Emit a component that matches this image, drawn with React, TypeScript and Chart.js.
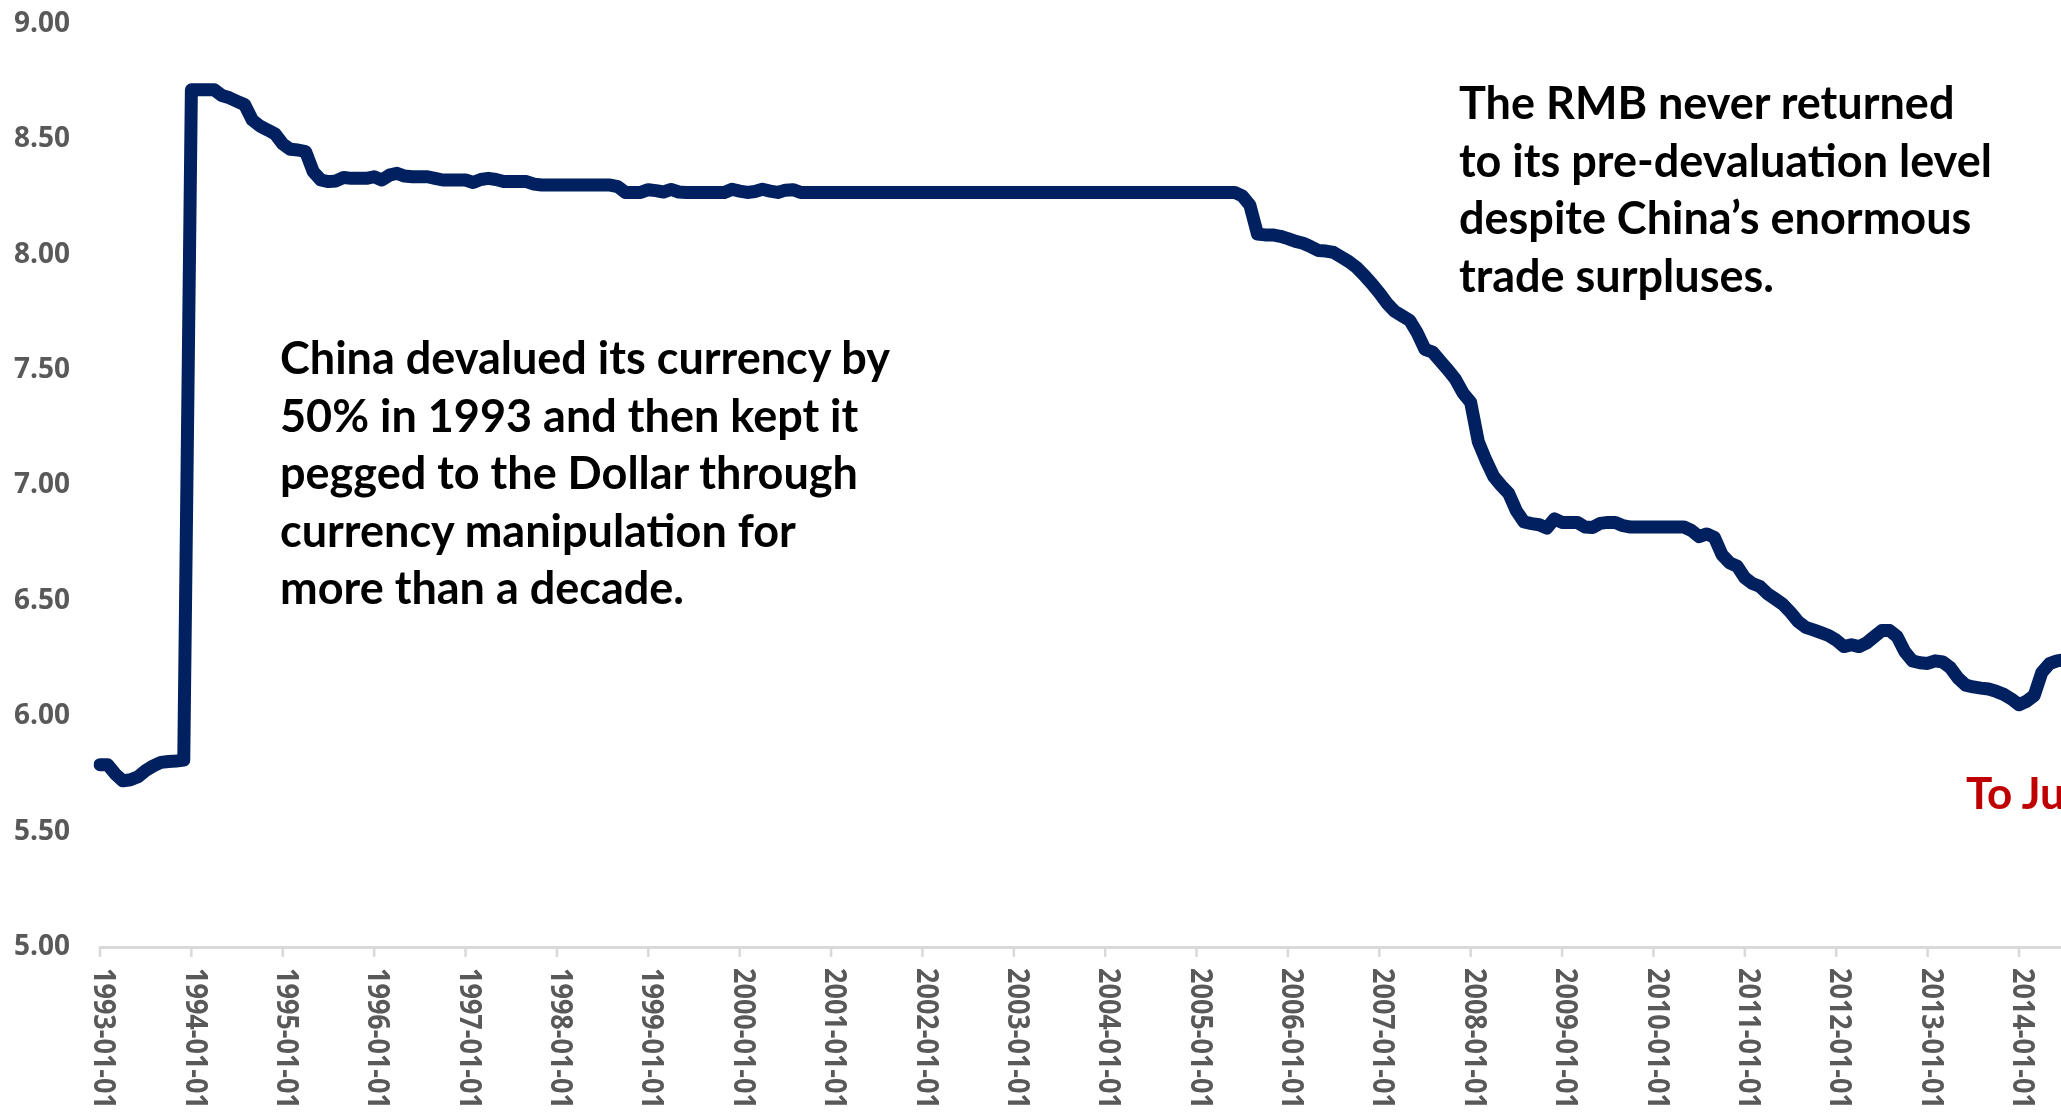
import React, { useEffect, useRef } from "react";
import { Chart, registerables } from "chart.js";

Chart.register(...registerables);

// Monthly USD/CNY exchange rate (yuan per dollar)
const rmb1993 = [5.79, 5.79, 5.75, 5.72, 5.725, 5.738, 5.765, 5.785, 5.8, 5.804, 5.806, 5.81];
const rmb1994 = [8.715, 8.715, 8.715, 8.715, 8.69, 8.68, 8.665, 8.65, 8.584, 8.558, 8.541, 8.523];
const rmb1995 = [8.48, 8.457, 8.454, 8.447, 8.36, 8.324, 8.317, 8.32, 8.335, 8.331, 8.331, 8.331];
const rmb1996 = [8.338, 8.324, 8.345, 8.353, 8.341, 8.338, 8.338, 8.338, 8.331, 8.324, 8.324, 8.324];
const rmb1997 = [8.324, 8.313, 8.326, 8.331, 8.326, 8.317, 8.317, 8.317, 8.317, 8.306, 8.302, 8.302];
const rmb1998 = [8.302, 8.302, 8.302, 8.302, 8.302, 8.302, 8.302, 8.302, 8.295, 8.27, 8.27, 8.27];
const rmb1999 = [8.282, 8.278, 8.272, 8.283, 8.272, 8.27, 8.27, 8.27, 8.27, 8.27, 8.27, 8.284];
const rmb2000 = [8.276, 8.27, 8.274, 8.284, 8.276, 8.27, 8.28, 8.282, 8.27, 8.27, 8.27, 8.27];
const rmb2001 = [8.27, 8.27, 8.27, 8.27, 8.27, 8.27, 8.27, 8.27, 8.27, 8.27, 8.27, 8.27];
const rmb2002 = [8.27, 8.27, 8.27, 8.27, 8.27, 8.27, 8.27, 8.27, 8.27, 8.27, 8.27, 8.27];
const rmb2003 = [8.27, 8.27, 8.27, 8.27, 8.27, 8.27, 8.27, 8.27, 8.27, 8.27, 8.27, 8.27];
const rmb2004 = [8.27, 8.27, 8.27, 8.27, 8.27, 8.27, 8.27, 8.27, 8.27, 8.27, 8.27, 8.27];
const rmb2005 = [8.27, 8.27, 8.27, 8.27, 8.27, 8.27, 8.255, 8.215, 8.09, 8.086, 8.086, 8.08];
const rmb2006 = [8.07, 8.058, 8.05, 8.035, 8.018, 8.016, 8.01, 7.99, 7.97, 7.945, 7.912, 7.875];
const rmb2007 = [7.835, 7.79, 7.755, 7.735, 7.715, 7.66, 7.59, 7.578, 7.54, 7.502, 7.46, 7.4];
const rmb2008 = [7.36, 7.19, 7.11, 7.04, 7.0, 6.965, 6.89, 6.842, 6.835, 6.83, 6.815, 6.855];
const rmb2009 = [6.84, 6.84, 6.84, 6.82, 6.818, 6.836, 6.84, 6.84, 6.826, 6.82, 6.82, 6.82];
const rmb2010 = [6.82, 6.82, 6.82, 6.82, 6.82, 6.805, 6.778, 6.79, 6.775, 6.7, 6.665, 6.65];
const rmb2011 = [6.6, 6.575, 6.562, 6.53, 6.508, 6.485, 6.45, 6.41, 6.385, 6.374, 6.362, 6.35];
const rmb2012 = [6.33, 6.302, 6.31, 6.302, 6.318, 6.345, 6.372, 6.372, 6.345, 6.28, 6.24, 6.232];
const rmb2013 = [6.229, 6.24, 6.235, 6.21, 6.165, 6.135, 6.127, 6.122, 6.118, 6.108, 6.095, 6.075];
const rmb2014 = [6.05, 6.065, 6.09, 6.19, 6.228, 6.24, 6.245, 6.24];

const firstYear = 1993;
const yMin = 5;
const yMax = 9;
const yStep = 0.5;

const leftNote = [
  "China devalued its currency by",
  "50% in 1993 and then kept it",
  "pegged to the Dollar through",
  "currency manipulation for",
  "more than a decade.",
];
const rightNote = [
  "The RMB never returned",
  "to its pre-devaluation level",
  "despite China\u2019s enormous",
  "trade surpluses.",
];
const endNote = "To July 2015";

const values: number[] = [
  ...rmb1993, ...rmb1994, ...rmb1995, ...rmb1996, ...rmb1997, ...rmb1998,
  ...rmb1999, ...rmb2000, ...rmb2001, ...rmb2002, ...rmb2003, ...rmb2004,
  ...rmb2005, ...rmb2006, ...rmb2007, ...rmb2008, ...rmb2009, ...rmb2010,
  ...rmb2011, ...rmb2012, ...rmb2013, ...rmb2014,
];

const months: string[] = values.map((_, i) => {
  const y = firstYear + Math.floor(i / 12);
  const m = (i % 12) + 1;
  return `${y}-${String(m).padStart(2, "0")}-01`;
});

const CANVAS_W = 2080;
const CANVAS_H = 1115;
const AREA_LEFT = 100;
const AREA_TOP = 24;
const AREA_BOTTOM = 947;
const MONTH_PX = 7.615;
const AREA_RIGHT = AREA_LEFT + (values.length - 1) * MONTH_PX;

const GRAY = "#595959";
const AXIS = "#d9d9d9";
const NAVY = "#002060";
const AXIS_FONT = "'Open Sans', Lato, sans-serif";

const januaryAxisPlugin = {
  id: "januaryAxis",
  afterDraw(chart: any) {
    const { ctx, chartArea, scales } = chart;
    const xs = scales.x;
    ctx.save();
    months.forEach((lab, i) => {
      if (!lab.endsWith("-01-01")) return;
      const x = xs.getPixelForValue(i);
      ctx.fillStyle = AXIS;
      ctx.fillRect(x - 1.25, chartArea.bottom, 2.5, 10);
      ctx.save();
      ctx.translate(x + 3, chartArea.bottom + 21);
      ctx.rotate(Math.PI / 2);
      ctx.scale(1, 1.15);
      ctx.fillStyle = GRAY;
      ctx.font = `bold 27px ${AXIS_FONT}`;
      ctx.textAlign = "left";
      ctx.textBaseline = "middle";
      ctx.fillText(lab, 0, 0);
      ctx.restore();
    });
    ctx.restore();
  },
};

function ChartCanvas() {
  const ref = useRef<HTMLCanvasElement | null>(null);
  useEffect(() => {
    if (!ref.current) return;
    const chart = new Chart(ref.current, {
      type: "line",
      data: {
        labels: months,
        datasets: [
          {
            label: "USD/CNY",
            data: values,
            borderColor: NAVY,
            backgroundColor: NAVY,
            borderWidth: 13,
            pointRadius: 0,
            pointHoverRadius: 0,
            fill: false,
            tension: 0,
            borderJoinStyle: "round",
            borderCapStyle: "round",
          },
        ],
      },
      options: {
        responsive: false,
        animation: false,
        events: [],
        layout: { padding: { top: AREA_TOP, left: 0, bottom: 0, right: CANVAS_W - AREA_RIGHT } },
        plugins: { legend: { display: false }, tooltip: { enabled: false } },
        scales: {
          x: {
            type: "category",
            offset: false,
            grid: { display: false },
            border: { display: true, color: AXIS, width: 3 },
            ticks: { display: false },
            afterFit(s: any) {
              s.height = CANVAS_H - AREA_BOTTOM;
              s.paddingLeft = 0;
              s.paddingRight = 0;
            },
          },
          y: {
            min: yMin,
            max: yMax,
            grid: { display: false },
            border: { display: false },
            ticks: {
              stepSize: yStep,
              padding: 22,
              color: GRAY,
              font: { family: AXIS_FONT, weight: "bold", size: 28 },
              callback: (v: any) => Number(v).toFixed(2),
            },
            afterFit(s: any) {
              s.width = AREA_LEFT;
              s.paddingTop = 0;
              s.paddingBottom = 0;
            },
          },
        },
      },
      plugins: [januaryAxisPlugin],
    } as any);
    return () => chart.destroy();
  }, []);
  return <canvas ref={ref} width={CANVAS_W} height={CANVAS_H} style={{ display: "block", width: CANVAS_W, height: CANVAS_H }} />;
}

const noteStyle: React.CSSProperties = {
  position: "absolute",
  fontFamily: "Lato, 'Open Sans', sans-serif",
  fontWeight: 700,
  fontSize: 45,
  lineHeight: "57.5px",
  color: "#000",
  whiteSpace: "pre",
};

export default function App() {
  return (
    <div
      style={{
        position: "fixed",
        left: 0,
        top: 0,
        width: 2061,
        height: 1115,
        overflow: "hidden",
        background: "#fff",
      }}
    >
      <div style={{ position: "absolute", left: 0, top: 0, width: CANVAS_W, height: CANVAS_H }}>
        <ChartCanvas />
      </div>
      <div style={{ ...noteStyle, left: 280, top: 329 }}>
        {leftNote.map((l, i) => (
          <div key={i}>{l}</div>
        ))}
      </div>
      <div style={{ ...noteStyle, left: 1459, top: 74 }}>
        {rightNote.map((l, i) => (
          <div key={i}>{l}</div>
        ))}
      </div>
      <div style={{ ...noteStyle, left: 1966, top: 764, color: "#C00000", fontSize: 44 }}>{endNote}</div>
    </div>
  );
}
